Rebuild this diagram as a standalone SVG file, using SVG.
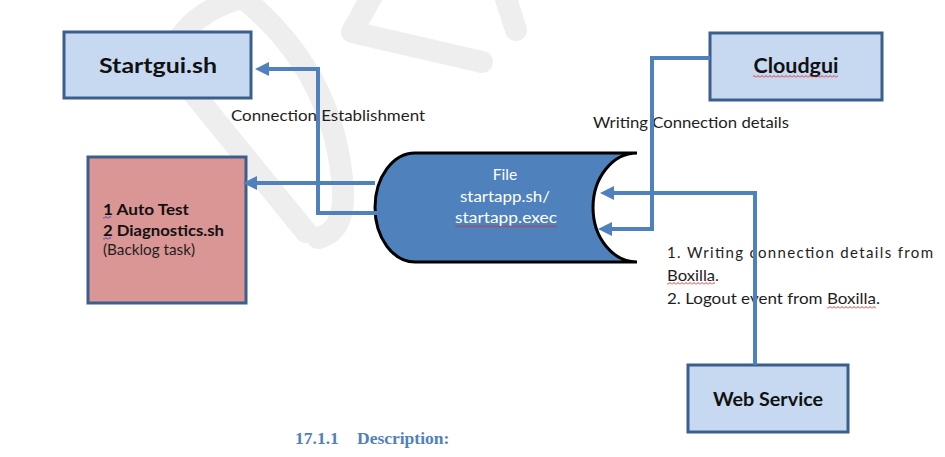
<svg xmlns="http://www.w3.org/2000/svg" width="945" height="457" viewBox="0 0 945 457">
<style>
.wm{fill:none;stroke:#eeeeee;stroke-width:22;stroke-linecap:round;stroke-linejoin:round}
.box{fill:#C6D9F1;stroke:#3B5E8C;stroke-width:3}
.pink{fill:#D99694;stroke:#3B5E8C;stroke-width:3}
.file{fill:#4F81BD;stroke:#000;stroke-width:3}
.conn{fill:none;stroke:#4F81BD;stroke-width:4;stroke-linejoin:miter}
.lbl{font-family:Lato,"Open Sans","Liberation Sans",sans-serif;font-size:15px;fill:#1e1e1e}
.bold{font-family:Lato,"Open Sans","Liberation Sans",sans-serif;font-weight:bold;fill:#111}
.ftxt{font-family:Lato,"Open Sans","Liberation Sans",sans-serif;font-size:15.5px;fill:#fff;text-anchor:middle}
.head{font-family:"Liberation Serif",serif;font-weight:bold;font-size:17.5px;fill:#4F81BD}
</style>
<defs>
<marker id="arr" markerUnits="userSpaceOnUse" markerWidth="14" markerHeight="14" viewBox="0 0 14 14" refX="4" refY="7" orient="auto">
<path d="M0,0 L14,7 L0,14 Z" fill="#4F81BD"/>
</marker>
<pattern id="wr" patternUnits="userSpaceOnUse" width="4" height="3">
<path d="M0,2.5 L2,0.5 L4,2.5" fill="none" stroke="#e02020" stroke-width="0.9"/>
</pattern>
<pattern id="wb" patternUnits="userSpaceOnUse" width="4" height="3">
<path d="M0,2.5 L2,0.5 L4,2.5" fill="none" stroke="#3030d0" stroke-width="0.9"/>
</pattern>
</defs>
<rect width="945" height="457" fill="#fff"/>
<g id="watermark">
<path class="wm" d="M250,-4 Q185,10 168,62 L306,232"/>
<path class="wm" d="M238,-6 Q335,70 343,190 Q345,232 318,238"/>
<path class="wm" d="M372,-4 L352,32 L482,62"/>
<path class="wm" d="M505,-4 L516,30"/>
</g>
<g id="startgui">
<rect class="box" x="64" y="32" width="187" height="66"/>
<text class="bold" x="158" y="73" font-size="21" text-anchor="middle" textLength="118" lengthAdjust="spacingAndGlyphs">Startgui.sh</text>
</g>
<g id="backlog">
<rect class="pink" x="88" y="157" width="158" height="146"/>
<text class="bold" x="103" y="215" font-size="16" textLength="86" lengthAdjust="spacingAndGlyphs">1 Auto Test</text>
<text class="bold" x="103" y="236" font-size="16" textLength="121" lengthAdjust="spacingAndGlyphs">2 Diagnostics.sh</text>
<text class="lbl" x="103" y="255" font-size="13.5" textLength="92" lengthAdjust="spacingAndGlyphs">(Backlog task)</text>
<rect x="103" y="216" width="8" height="3" fill="url(#wb)"/>
<rect x="103" y="237" width="8" height="3" fill="url(#wb)"/>
</g>
<g id="file">
<path class="file" d="M637,153 L415,153 A40,54.5 0 0 0 415,262 L637,262 A44,54.5 0 0 1 637,153 Z"/>
<text class="ftxt" x="505" y="180">File</text>
<text class="ftxt" x="505" y="202" textLength="90" lengthAdjust="spacingAndGlyphs">startapp.sh/</text>
<text class="ftxt" x="506" y="223" textLength="102" lengthAdjust="spacingAndGlyphs">startapp.exec</text>
<rect x="455" y="225" width="102" height="3" fill="url(#wr)"/>
</g>
<g id="cloudgui">
<rect class="box" x="710" y="33" width="172" height="67"/>
<text class="bold" x="796" y="73" font-size="20" text-anchor="middle" textLength="85" lengthAdjust="spacingAndGlyphs">Cloudgui</text>
<rect x="753" y="75" width="85" height="3" fill="url(#wr)"/>
</g>
<g id="webservice">
<rect class="box" x="688" y="365" width="160" height="67"/>
<text class="bold" x="768" y="406" font-size="18.5" text-anchor="middle" textLength="110" lengthAdjust="spacingAndGlyphs">Web Service</text>
</g>
<g id="labels">
<text class="lbl" x="231" y="121" textLength="194" lengthAdjust="spacingAndGlyphs">Connection Establishment</text>
<text class="lbl" x="593" y="128" textLength="196" lengthAdjust="spacingAndGlyphs">Writing Connection details</text>
<text class="lbl" x="667" y="258" textLength="266" lengthAdjust="spacing">1. Writing connection details from</text>
<text class="lbl" x="667" y="281" textLength="52" lengthAdjust="spacingAndGlyphs">Boxilla.</text>
<text class="lbl" x="667" y="304" textLength="213" lengthAdjust="spacingAndGlyphs">2. Logout event from Boxilla.</text>
<rect x="667" y="282" width="48" height="3" fill="url(#wr)"/>
<rect x="827" y="306" width="49" height="3" fill="url(#wr)"/>
<text class="head" x="295" y="444">17.1.1</text>
<text class="head" x="357" y="444">Description:</text>
</g>
<g id="connectors">
<path class="conn" d="M375,183 L253,183" marker-end="url(#arr)"/>
<path class="conn" d="M377,213 L318,213 L318,69 L265,69" marker-end="url(#arr)"/>
<path class="conn" d="M710,58 L652,58 L652,229 L608,229" marker-end="url(#arr)"/>
<path class="conn" d="M755,365 L755,193 L610,193" marker-end="url(#arr)"/>
</g>
</svg>
